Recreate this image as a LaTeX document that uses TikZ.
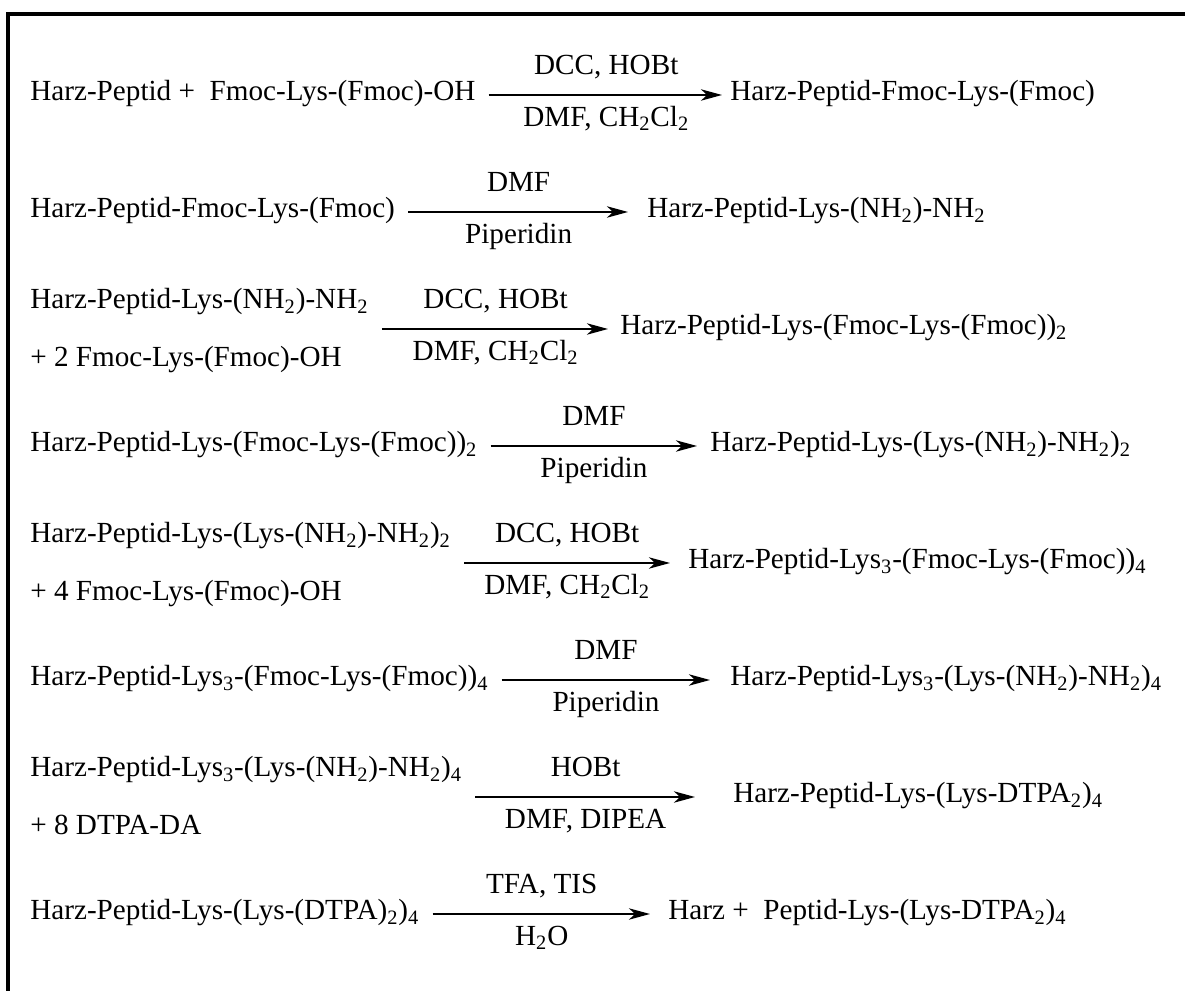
\documentclass[tikz,border=0pt]{standalone}
\usepackage{fontspec}
\setmainfont{Liberation Serif}
\usetikzlibrary{arrows.meta}
\tikzset{
  cmp/.style ={anchor=west, inner sep=0pt, text height=0.66em, text depth=0pt},
  lab/.style ={inner sep=0pt, text height=0.66em, text depth=0pt},
  rxn/.style ={draw=black, line width=0.9pt, shorten <=0.26cm,
               -{Stealth[length=12pt,width=6.5pt,inset=3.5pt]}},
  frm/.style ={draw=black, line width=2.3pt, line cap=butt, line join=miter},
}
\newcommand{\sub}[1]{\textsubscript{#1}}

\begin{document}
\begin{tikzpicture}[font=\fontsize{16.6}{20}\selectfont]
  \useasboundingbox (0,0) rectangle (23.7,19.8);
  \draw[frm] (0.16,-0.2) -- (0.16,19.52) -- (23.9,19.52);
  % row 1
  \coordinate (h1) at (14.44,17.90);
  \node[cmp] (r1) at (0.6,17.90) {Harz-Peptid +~~Fmoc-Lys-(Fmoc)-OH};
  \node[cmp] (p1) at (14.60,17.90) {Harz-Peptid-Fmoc-Lys-(Fmoc)};
  \draw[rxn] (r1.east |- h1) -- (h1)
    node[lab,pos=0.53,above=0.4cm] {DCC, HOBt}
    node[lab,pos=0.53,below=0.38cm] {DMF, CH\sub{2}Cl\sub{2}};
  % row 2
  \coordinate (h2) at (12.56,15.56);
  \node[cmp] (r2) at (0.6,15.56) {Harz-Peptid-Fmoc-Lys-(Fmoc)};
  \node[cmp] (p2) at (12.94,15.56) {Harz-Peptid-Lys-(NH\sub{2})-NH\sub{2}};
  \draw[rxn] (r2.east |- h2) -- (h2)
    node[lab,pos=0.53,above=0.4cm] {DMF}
    node[lab,pos=0.53,below=0.38cm] {Piperidin};
  % row 3
  \coordinate (h3) at (12.16,13.22);
  \node[cmp] (r3) at (0.6,13.74) {Harz-Peptid-Lys-(NH\sub{2})-NH\sub{2}};
  \node[cmp] (r3b) at (0.6,12.58) {+ 2 Fmoc-Lys-(Fmoc)-OH};
  \node[cmp] (p3) at (12.40,13.22) {Harz-Peptid-Lys-(Fmoc-Lys-(Fmoc))\sub{2}};
  \draw[rxn] (r3.east |- h3) -- (h3)
    node[lab,pos=0.53,above=0.4cm] {DCC, HOBt}
    node[lab,pos=0.53,below=0.38cm] {DMF, CH\sub{2}Cl\sub{2}};
  % row 4
  \coordinate (h4) at (13.94,10.88);
  \node[cmp] (r4) at (0.6,10.88) {Harz-Peptid-Lys-(Fmoc-Lys-(Fmoc))\sub{2}};
  \node[cmp] (p4) at (14.20,10.88) {Harz-Peptid-Lys-(Lys-(NH\sub{2})-NH\sub{2})\sub{2}};
  \draw[rxn] (r4.east |- h4) -- (h4)
    node[lab,pos=0.53,above=0.4cm] {DMF}
    node[lab,pos=0.53,below=0.38cm] {Piperidin};
  % row 5
  \coordinate (h5) at (13.40,8.54);
  \node[cmp] (r5) at (0.6,9.06) {Harz-Peptid-Lys-(Lys-(NH\sub{2})-NH\sub{2})\sub{2}};
  \node[cmp] (r5b) at (0.6,7.90) {+ 4 Fmoc-Lys-(Fmoc)-OH};
  \node[cmp] (p5) at (13.76,8.54) {Harz-Peptid-Lys\sub{3}-(Fmoc-Lys-(Fmoc))\sub{4}};
  \draw[rxn] (r5.east |- h5) -- (h5)
    node[lab,pos=0.53,above=0.4cm] {DCC, HOBt}
    node[lab,pos=0.53,below=0.38cm] {DMF, CH\sub{2}Cl\sub{2}};
  % row 6
  \coordinate (h6) at (14.20,6.20);
  \node[cmp] (r6) at (0.6,6.20) {Harz-Peptid-Lys\sub{3}-(Fmoc-Lys-(Fmoc))\sub{4}};
  \node[cmp] (p6) at (14.60,6.20) {Harz-Peptid-Lys\sub{3}-(Lys-(NH\sub{2})-NH\sub{2})\sub{4}};
  \draw[rxn] (r6.east |- h6) -- (h6)
    node[lab,pos=0.53,above=0.4cm] {DMF}
    node[lab,pos=0.53,below=0.38cm] {Piperidin};
  % row 7
  \coordinate (h7) at (13.90,3.86);
  \node[cmp] (r7) at (0.6,4.38) {Harz-Peptid-Lys\sub{3}-(Lys-(NH\sub{2})-NH\sub{2})\sub{4}};
  \node[cmp] (r7b) at (0.6,3.22) {+ 8 DTPA-DA};
  \node[cmp] (p7) at (14.66,3.86) {Harz-Peptid-Lys-(Lys-DTPA\sub{2})\sub{4}};
  \draw[rxn] (r7.east |- h7) -- (h7)
    node[lab,pos=0.53,above=0.4cm] {HOBt}
    node[lab,pos=0.53,below=0.38cm] {DMF, DIPEA};
  % row 8
  \coordinate (h8) at (13.00,1.52);
  \node[cmp] (r8) at (0.6,1.52) {Harz-Peptid-Lys-(Lys-(DTPA)\sub{2})\sub{4}};
  \node[cmp] (p8) at (13.36,1.52) {Harz +~~Peptid-Lys-(Lys-DTPA\sub{2})\sub{4}};
  \draw[rxn] (r8.east |- h8) -- (h8)
    node[lab,pos=0.53,above=0.4cm] {TFA, TIS}
    node[lab,pos=0.53,below=0.38cm] {H\sub{2}O};
\end{tikzpicture}
\end{document}
